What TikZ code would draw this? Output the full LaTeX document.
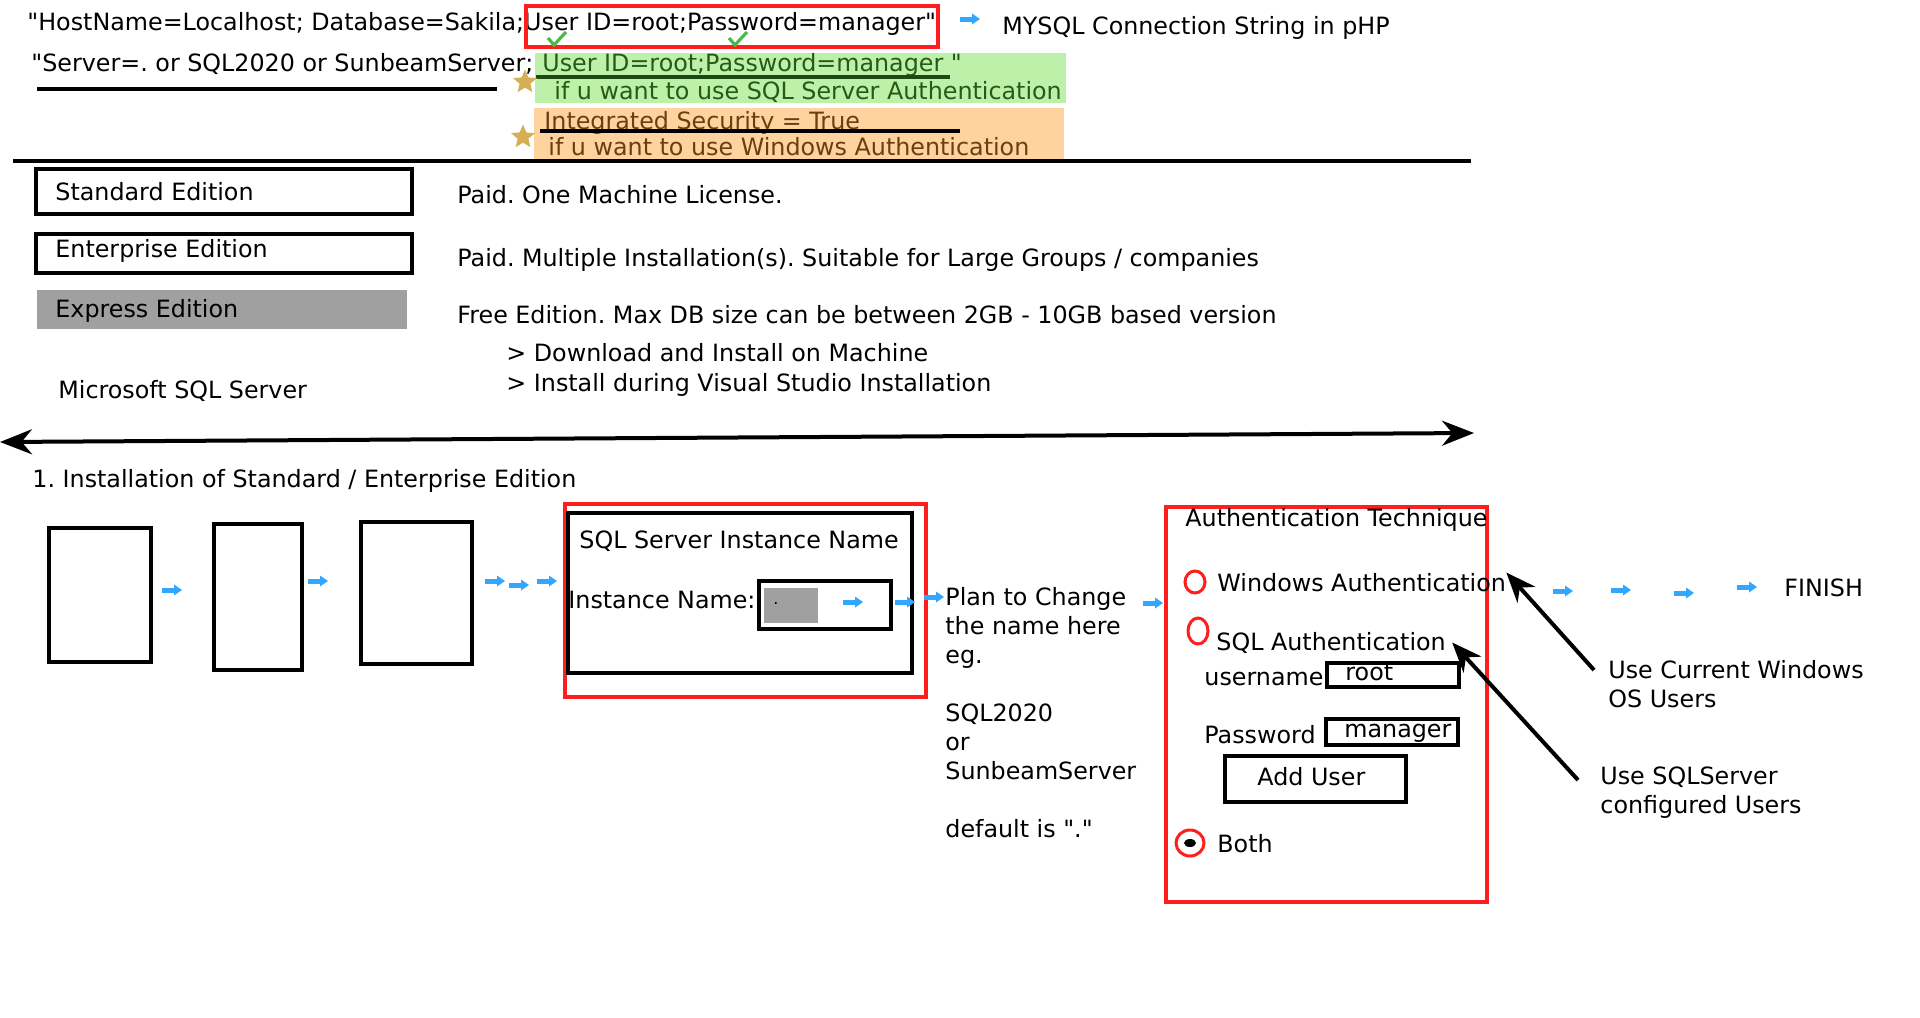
\documentclass[tikz,border=0pt]{standalone}
\usepackage{fontspec}
\setmainfont{DejaVu Sans}
\usetikzlibrary{arrows.meta,shapes.geometric}
\definecolor{redline}{HTML}{FF1E1E}
\definecolor{greenfill}{HTML}{BDF0A9}
\definecolor{greentext}{HTML}{245C16}
\definecolor{orangefill}{HTML}{FFD39E}
\definecolor{browntext}{HTML}{6B3F10}
\definecolor{starcol}{HTML}{D4AF55}
\definecolor{checkcol}{HTML}{4CB84C}
\definecolor{arrowblue}{HTML}{33A6FF}
\definecolor{fieldgray}{HTML}{A0A0A0}
\newcommand{\qt}{\textquotedbl}
\tikzset{
  txt/.style={anchor=base west, inner sep=0pt, font=\fontsize{11.9}{14.5}\selectfont},
  mtxt/.style={anchor=north west, inner sep=0pt, align=left, font=\fontsize{11.9}{14.5}\selectfont},
  box/.style={draw=black, line width=2pt},
  redbox/.style={draw=redline, line width=1.75pt},
  radio/.style={draw=redline, line width=1.5pt},
  blkarrow/.style={line width=2pt, -{Stealth[length=15pt,width=12pt]}},
  starmark/.style={star, star points=5, star point ratio=2.2, fill=starcol, inner sep=0pt, minimum size=12.5pt},
  bluearr/.pic={
    \fill[arrowblue] (-10,-2.5) rectangle (3,2.5);
    \fill[arrowblue] (2,-5.5) -- (10,0) -- (2,5.5) -- cycle;
  },
  checkmark/.pic={\draw[checkcol, line width=1.6pt] (-9,-1) -- (-3,6) -- (9,-7);}
}
\frenchspacing
\begin{document}
\begin{tikzpicture}[x=0.5pt,y=-0.5pt]
  \useasboundingbox (0,0) rectangle (1920,1017);
  % connection strings
  \fill[greenfill] (535,53) rectangle (1066,103);
  \fill[orangefill] (534,108) rectangle (1064,159);
  \node[txt] (phpstr) at (27,30) {\qt HostName=Localhost; Database=Sakila;User ID=root;Password=manager\qt};
  \draw[redbox] (526,6) rectangle (938,47);
  \pic at (557,39) {checkmark};
  \pic at (738,39) {checkmark};
  \pic at (970,19) {bluearr};
  \node[txt] (phplbl) at (1002,34) {MYSQL Connection String in pHP};
  \node[txt] (srvstr) at (31,71) {\qt Server=. or SQL2020 or SunbeamServer;};
  \node[txt, text=greentext] (sqlstr) at (542,71) {User ID=root;Password=manager \qt};
  \draw[greentext!80!black, line width=1.7pt] (536,77) -- (950,77);
  \node[txt, text=greentext] (sqlnote) at (554,99) {if u want to use SQL Server Authentication};
  \node[starmark] (star1) at (525,82) {};
  \draw[line width=2pt] (37,89) -- (497,89);
  \node[txt, text=browntext] (winstr) at (544,129) {Integrated Security = True};
  \draw[line width=2pt] (540,131) -- (960,131);
  \node[txt, text=browntext] (winnote) at (548,155) {if u want to use Windows Authentication};
  \node[starmark] (star2) at (523,137) {};
  \draw[line width=2pt] (13,161) -- (1471,161);
  % editions
  \draw[box] (35.5,169) rectangle (411.5,214);
  \node[txt] (std) at (55,200) {Standard Edition};
  \draw[box] (35.5,234) rectangle (411.5,273);
  \node[txt] (ent) at (55,257) {Enterprise Edition};
  \fill[fieldgray] (37,290) rectangle (407,329);
  \node[txt] (expr) at (55,317) {Express Edition};
  \node[txt] (mss) at (58,398) {Microsoft SQL Server};
  \node[txt] (stddesc) at (457,203) {Paid. One Machine License.};
  \node[txt] (entdesc) at (457,266) {Paid. Multiple Installation(s). Suitable for Large Groups / companies};
  \node[txt] (exprdesc) at (457,323) {Free Edition. Max DB size can be between 2GB - 10GB based version};
  \node[txt] (dl) at (506,361) {> Download and Install on Machine};
  \node[txt] (vs) at (506,391) {> Install during Visual Studio Installation};
  \draw[line width=2pt, {Stealth[length=16pt,width=12.5pt]}-{Stealth[length=16pt,width=12.5pt]}] (0,442) -- (1474,433);
  % installation steps
  \node[txt] (inst) at (32,487) {1. Installation of Standard / Enterprise Edition};
  \draw[box] (49,528) rectangle (151,662);
  \draw[box] (214,524) rectangle (302,670);
  \draw[box] (361,522) rectangle (472,664);
  \pic at (172,590) {bluearr};
  \pic at (318,581) {bluearr};
  \pic at (495,581) {bluearr};
  \pic at (519,585) {bluearr};
  \pic at (547,581) {bluearr};
  \draw[redbox] (565,504) rectangle (926,697);
  \draw[box] (568,513) rectangle (912,673);
  \node[txt] (insttitle) at (579,548) {SQL Server Instance Name};
  \node[txt] (instname) at (568,608) {Instance Name:};
  \draw[box] (759,581) rectangle (891,629);
  \fill[fieldgray] (764,588) rectangle (818,623);
  \node[txt, font=\fontsize{8}{10}\selectfont] (dot) at (773,604) {.};
  \pic at (853,602) {bluearr};
  \pic at (905,602) {bluearr};
  \pic at (934,597) {bluearr};
  \node[mtxt] (plan) at (945,587) {Plan to Change\\the name here\\eg.\\[14.5pt]SQL2020\\or\\SunbeamServer\\[14.5pt]default is \qt.\qt};
  \pic at (1153,603) {bluearr};
  % authentication
  \draw[redbox] (1166,507) rectangle (1487,902);
  \node[txt] (authtitle) at (1185,526) {Authentication Technique};
  \draw[radio] (1195,582) ellipse [x radius=10, y radius=11];
  \node[txt] (winauth) at (1217,591) {Windows Authentication};
  \draw[radio] (1198,631) ellipse [x radius=10, y radius=13];
  \node[txt] (sqlauth) at (1216,650) {SQL Authentication};
  \node[txt] (user) at (1204,685) {username};
  \draw[box] (1327,663) rectangle (1459,687);
  \node[txt] (root) at (1345,680) {root};
  \node[txt] (pwd) at (1204,743) {Password};
  \draw[box] (1326,719) rectangle (1458,745);
  \node[txt] (mgr) at (1344,737) {manager};
  \draw[box] (1225,756) rectangle (1406,802);
  \node[txt] (adduser) at (1257,785) {Add User};
  \draw[radio] (1190,843) ellipse [x radius=14, y radius=13];
  \fill (1190,843) ellipse [x radius=6, y radius=4];
  \node[txt] (both) at (1217,852) {Both};
  \pic at (1563,591) {bluearr};
  \pic at (1621,590) {bluearr};
  \pic at (1684,593) {bluearr};
  \pic at (1747,587) {bluearr};
  \node[txt] (finish) at (1784,596) {FINISH};
  \node[mtxt] (osusers) at (1608,660) {Use Current Windows\\OS Users};
  \node[mtxt] (sqlusers) at (1600,766) {Use SQLServer\\configured Users};
  \draw[blkarrow] ([xshift=-7pt,yshift=-5pt]osusers.north west) -- (winauth.north east);
  \draw[blkarrow] ([xshift=-11pt,yshift=-7pt]sqlusers.north west) -- ([xshift=3pt]sqlauth.east);
\end{tikzpicture}
\end{document}
